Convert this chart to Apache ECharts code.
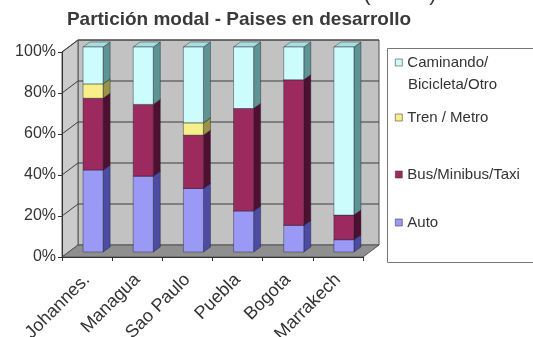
<!DOCTYPE html>
<html>
<head>
<meta charset="utf-8">
<script src="https://cdn.jsdelivr.net/npm/echarts@6/dist/echarts.min.js"></script>
<style>
  html, body { margin: 0; padding: 0; background: #ffffff; }
  #chart { width: 533px; height: 337px; }
</style>
</head>
<body>
<div id="chart"></div>
<script>
// Modal split per city (percent of trips)
const categories = ['Johannes.', 'Managua', 'Sao Paulo', 'Puebla', 'Bogota', 'Marrakech'];
const auto = [40, 37, 31, 20, 13, 6];
const bus = [35, 35, 26, 50, 71, 12];
const tren = [7, 0, 6, 0, 0, 0];
const caminando = [18, 28, 37, 30, 16, 82];
const valueTicks = [0, 20, 40, 60, 80, 100];

const FONT = '"Liberation Sans", Arial, sans-serif';
const TEXT = '#333333';
const WALL = [16, -12];      // depth of the box (floor / back wall offset)
const BAR_OFF = [6, -5];     // bars stand partway into the box
const BAR_DEPTH = [7, -5];   // thickness of each column
const BAR_RATIO = 0.4;

const stackDefs = [
  { name: 'Auto', values: auto, front: '#9a9af6', side: '#4c4ca2', top: '#7e7ee0' },
  { name: 'Bus/Minibus/Taxi', values: bus, front: '#9c2a5e', side: '#4e1030', top: '#7a1c48' },
  { name: 'Tren / Metro', values: tren, front: '#f7ef8a', side: '#9a9448', top: '#dcd474' },
  { name: 'Caminando/Bicicleta/Otro', values: caminando, front: '#ccfcfc', side: '#5e9494', top: '#a8dede' }
];

// running bases for the stacked columns
const bases = categories.map(() => 0);
const stackData = stackDefs.map(def => {
  const rows = def.values.map((v, i) => {
    const row = [i, bases[i], bases[i] + v];
    bases[i] += v;
    return row;
  });
  return rows;
});

function frameRenderer(params, api) {
  const n = categories.length;
  const bw = api.size([1, 0])[0];
  const left = api.coord([0, 0])[0] - bw / 2;
  const right = api.coord([n - 1, 0])[0] + bw / 2;
  const bottom = api.coord([0, 0])[1];
  const top = api.coord([0, 100])[1];
  const [dx, dy] = WALL;
  const outline = { stroke: '#555555', lineWidth: 1 };
  const children = [
    { type: 'polygon', shape: { points: [[left + dx, top + dy], [right + dx, top + dy], [right + dx, bottom + dy], [left + dx, bottom + dy]] },
      style: Object.assign({ fill: '#c2c2c2' }, outline) },
    { type: 'polygon', shape: { points: [[left, top], [left + dx, top + dy], [left + dx, bottom + dy], [left, bottom]] },
      style: Object.assign({ fill: '#cbcbcb' }, outline) },
    { type: 'polygon', shape: { points: [[left, bottom], [right, bottom], [right + dx, bottom + dy], [left + dx, bottom + dy]] },
      style: Object.assign({ fill: '#8f8f8f' }, outline) }
  ];
  valueTicks.forEach(t => {
    if (t === 0) return;
    const y = api.coord([0, t])[1];
    children.push({ type: 'polyline', shape: { points: [[left, y], [left + dx, y + dy], [right + dx, y + dy]] },
      style: { stroke: '#3c3c3c', lineWidth: 1, fill: null } });
  });
  return { type: 'group', children: children };
}

function barRenderer(def) {
  return function (params, api) {
    const i = api.value(0), lo = api.value(1), hi = api.value(2);
    if (hi - lo <= 0) return null;
    const bw = api.size([1, 0])[0];
    const w = bw * BAR_RATIO;
    const pLo = api.coord([i, lo]);
    const pHi = api.coord([i, hi]);
    const x0 = pLo[0] - w / 2 + BAR_OFF[0];
    const x1 = x0 + w;
    const yb = pLo[1] + BAR_OFF[1];
    const yt = pHi[1] + BAR_OFF[1];
    const [dx, dy] = BAR_DEPTH;
    const edge = { stroke: 'rgba(30,30,45,0.6)', lineWidth: 0.7 };
    return {
      type: 'group',
      children: [
        { type: 'polygon', shape: { points: [[x1, yb], [x1 + dx, yb + dy], [x1 + dx, yt + dy], [x1, yt]] },
          style: Object.assign({ fill: def.side }, edge) },
        { type: 'polygon', shape: { points: [[x0, yt], [x1, yt], [x1 + dx, yt + dy], [x0 + dx, yt + dy]] },
          style: Object.assign({ fill: def.top }, edge) },
        { type: 'rect', shape: { x: x0, y: yt, width: w, height: yb - yt },
          style: Object.assign({ fill: def.front }, edge) }
      ]
    };
  };
}

function legendFor(name, topPx, label) {
  return {
    data: [name],
    orient: 'vertical',
    left: 395,
    top: topPx,
    padding: 0,
    icon: 'rect',
    itemWidth: 7,
    itemHeight: 7,
    itemStyle: { borderColor: '#444444', borderWidth: 0.6 },
    textStyle: { fontFamily: FONT, fontSize: 15, color: TEXT },
    formatter: () => label,
    selectedMode: false
  };
}

const chart = echarts.init(document.getElementById('chart'), null, { renderer: 'canvas' });

chart.setOption({
  animation: false,
  backgroundColor: '#ffffff',
  grid: { left: 62, right: 170, top: 52, bottom: 80, containLabel: false, outerBoundsMode: 'none' },
  xAxis: {
    type: 'category',
    data: categories,
    axisLine: { lineStyle: { color: '#333333', width: 1 } },
    axisTick: { show: true, length: 4, lineStyle: { color: '#333333' } },
    axisLabel: { rotate: 45, margin: 20, fontFamily: FONT, fontSize: 18, color: TEXT, interval: 0 }
  },
  yAxis: {
    type: 'value',
    min: 0,
    max: 100,
    interval: 20,
    axisLine: { show: true, lineStyle: { color: '#333333', width: 1 } },
    axisTick: { show: true, length: 4, lineStyle: { color: '#333333' } },
    axisLabel: { formatter: '{value}%', margin: 6, fontFamily: FONT, fontSize: 16, color: TEXT },
    splitLine: { show: false }
  },
  legend: [
    legendFor('Caminando/Bicicleta/Otro', 55, 'Caminando/'),
    legendFor('Tren / Metro', 110, 'Tren / Metro'),
    legendFor('Bus/Minibus/Taxi', 167, 'Bus/Minibus/Taxi'),
    legendFor('Auto', 215, 'Auto')
  ],
  graphic: [
    { type: 'rect', z: 0, shape: { x: 387.5, y: 48.5, width: 170, height: 214 },
      style: { fill: '#ffffff', stroke: '#777777', lineWidth: 1 } },
    { type: 'text', z: 10, x: 408, y: 85,
      style: { text: 'Bicicleta/Otro', font: '15px ' + FONT, fill: TEXT, textVerticalAlign: 'middle' } },
    { type: 'text', z: 10, x: 239, y: 20,
      style: { text: 'Partición modal - Paises en desarrollo', font: 'bold 19px ' + FONT, fill: '#3a3a3a',
        textAlign: 'center', textVerticalAlign: 'middle' } },
    { type: 'text', z: 10, x: 367, y: -6,
      style: { text: '(', font: '22px ' + FONT, fill: TEXT, textAlign: 'center', textVerticalAlign: 'middle' } },
    { type: 'text', z: 10, x: 433, y: -6,
      style: { text: ')', font: '22px ' + FONT, fill: TEXT, textAlign: 'center', textVerticalAlign: 'middle' } }
  ],
  series: [
    {
      type: 'custom',
      name: 'frame',
      silent: true,
      z: -1,
      data: [[0, 0]],
      encode: { x: 0, y: 1 },
      renderItem: frameRenderer
    }
  ].concat(stackDefs.map((def, k) => ({
    type: 'custom',
    name: def.name,
    silent: true,
    z: 2,
    itemStyle: { color: def.front },
    data: stackData[k],
    encode: { x: 0, y: [1, 2] },
    renderItem: barRenderer(def)
  })))
});
</script>
</body>
</html>
